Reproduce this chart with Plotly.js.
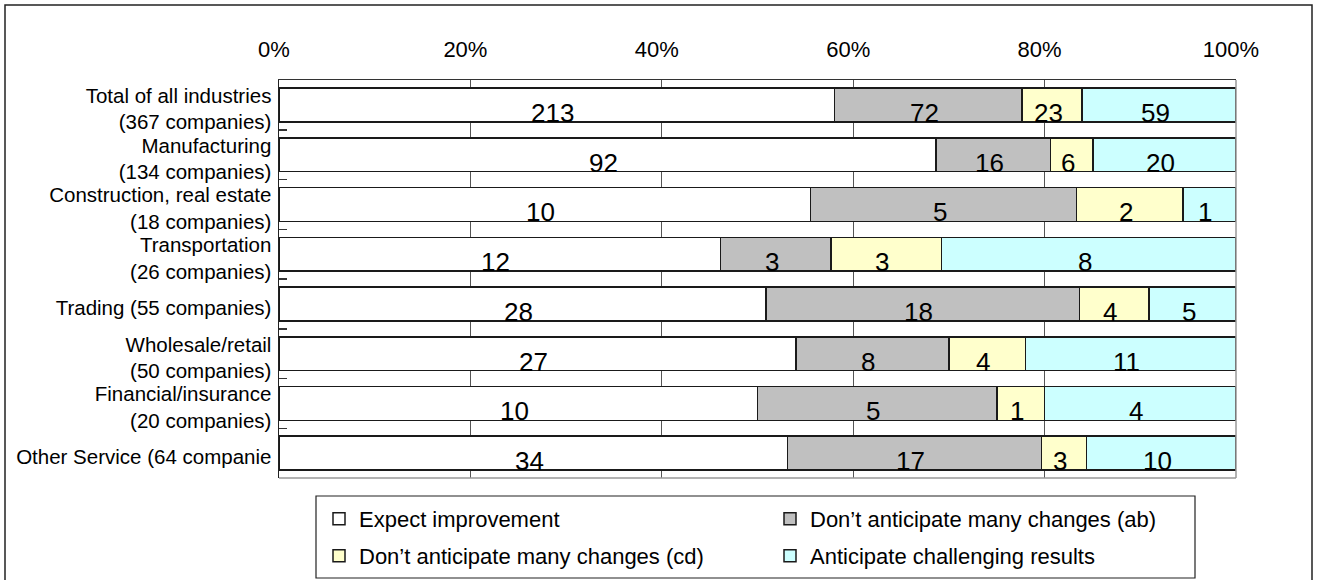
<!DOCTYPE html>
<html>
<head>
<meta charset="utf-8">
<script src="https://cdn.plot.ly/plotly-3.0.1.min.js"></script>
<style>
  html, body { margin: 0; padding: 0; background: #ffffff; }
  #chart { width: 1324px; height: 580px; }
</style>
</head>
<body>
<div id="chart"></div>
<script>
// Survey outlook by industry (number of companies per answer)
const industries = [
  "Total of all industries<br>(367 companies)",
  "Manufacturing<br>(134 companies)",
  "Construction, real estate<br>(18 companies)",
  "Transportation<br>(26 companies)",
  "Trading (55 companies)",
  "Wholesale/retail<br>(50 companies)",
  "Financial/insurance<br>(20 companies)",
  "Other Service (64 companie"
];
const expectImprovement = [213, 92, 10, 12, 28, 27, 10, 34];
const noChangesAB       = [72, 16, 5, 3, 18, 8, 5, 17];
const noChangesCD       = [23, 6, 2, 3, 4, 4, 1, 3];
const challenging       = [59, 20, 1, 8, 5, 11, 4, 10];

const seriesNames = [
  "Expect improvement",
  "Don\u2019t anticipate many changes (ab)",
  "Don\u2019t anticipate many changes (cd)",
  "Anticipate challenging results"
];
const seriesColors = ["#ffffff", "#c0c0c0", "#ffffcc", "#ccffff"];
const seriesLegend = ["legend", "legend", "legend2", "legend2"];
const tickValues = [0, 20, 40, 60, 80, 100];
const tickLabels = ["0%", "20%", "40%", "60%", "80%", "100%"];

const series = [expectImprovement, noChangesAB, noChangesCD, challenging];
const FONT = "Liberation Sans, Arial, sans-serif";

const traces = series.map((vals, s) => ({
  type: "bar",
  orientation: "h",
  name: seriesNames[s],
  x: vals,
  y: industries,
  legend: seriesLegend[s],
  marker: { color: seriesColors[s], line: { color: "#1a1a1a", width: 1.5 } },
  hoverinfo: "name+x"
}));

// Count labels placed at the middle of each normalized segment
const totals = industries.map((_, i) => series.reduce((a, v) => a + v[i], 0));
const annotations = [];
industries.forEach((cat, i) => {
  let cum = 0;
  series.forEach(vals => {
    const v = vals[i];
    annotations.push({
      x: (cum + v / 2) / totals[i] * 100,
      y: cat,
      xref: "x", yref: "y",
      text: String(v),
      showarrow: false,
      xshift: -4,
      yshift: -8,
      font: { family: FONT, size: 26, color: "#000" }
    });
    cum += v;
  });
});

// Paper-coordinate helpers for frame shapes (plot area: 279..1236 x 80..478)
const px = v => (v - 279) / 957;
const py = v => (478 - v) / 398;

const shapes = [
  // outer chart frame
  { type: "rect", xref: "paper", yref: "paper", x0: px(5), x1: px(1312), y0: py(620), y1: py(5),
    line: { color: "#222", width: 1.5 }, fillcolor: "rgba(0,0,0,0)", layer: "below" },
  // right and bottom edges of plot area
  { type: "line", xref: "paper", yref: "paper", x0: 1, x1: 1, y0: 0, y1: 1, line: { color: "#999", width: 1.5 } },
  { type: "line", xref: "paper", yref: "paper", x0: 0, x1: 1, y0: 0, y1: 0, line: { color: "#999", width: 1.5 } },
  // legend box
  { type: "rect", xref: "paper", yref: "paper", x0: px(316), x1: px(1195), y0: py(578), y1: py(496),
    line: { color: "#222", width: 1.2 }, fillcolor: "rgba(0,0,0,0)" }
];

const legendCommon = {
  orientation: "h",
  xanchor: "left",
  yanchor: "middle",
  x: px(319),
  entrywidth: 406,
  entrywidthmode: "pixels",
  traceorder: "normal",
  bgcolor: "rgba(0,0,0,0)",
  borderwidth: 0,
  font: { family: FONT, size: 22, color: "#000" }
};

const layout = {
  width: 1324,
  height: 580,
  margin: { l: 279, r: 88, t: 80, b: 102, pad: 0, autoexpand: false },
  paper_bgcolor: "#ffffff",
  plot_bgcolor: "#ffffff",
  barmode: "stack",
  barnorm: "percent",
  bargap: 0.32,
  font: { family: FONT, size: 21, color: "#000" },
  xaxis: {
    side: "top",
    range: [0, 100],
    tickvals: tickValues,
    ticktext: tickLabels,
    ticks: "",
    showgrid: true,
    gridcolor: "#555",
    gridwidth: 1,
    zeroline: false,
    showline: true,
    linecolor: "#333",
    linewidth: 1.5,
    ticklabelstandoff: 13,
    ticklabelshift: -5,
    tickfont: { family: FONT, size: 22, color: "#000" },
    automargin: false,
    fixedrange: true
  },
  yaxis: {
    type: "category",
    autorange: "reversed",
    ticks: "inside",
    tickson: "boundaries",
    ticklen: 8,
    tickcolor: "#333",
    tickwidth: 1.5,
    showgrid: false,
    zeroline: false,
    showline: true,
    linecolor: "#222",
    linewidth: 1.5,
    ticklabelstandoff: 2,
    ticklabelshift: -4,
    tickfont: { family: FONT, size: 20.5, color: "#000" },
    automargin: false,
    fixedrange: true
  },
  legend: Object.assign({}, legendCommon, { y: py(519) }),
  legend2: Object.assign({}, legendCommon, { y: py(556) }),
  annotations: annotations,
  shapes: shapes
};

Plotly.newPlot("chart", traces, layout, { displayModeBar: false, staticPlot: true });
</script>
</body>
</html>
